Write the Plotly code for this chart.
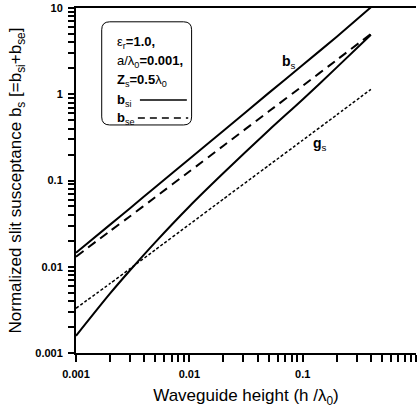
import plotly.graph_objects as go

# Data (log-log)
h = [0.001, 0.002, 0.003, 0.005, 0.01, 0.02, 0.05, 0.1, 0.2, 0.4]
b_s = [0.0145, 0.0308, 0.0478, 0.0835, 0.178, 0.378, 1.03, 2.18, 4.65, 10.2]
b_se = [0.0131, 0.0260, 0.0385, 0.0640, 0.127, 0.253, 0.63, 1.25, 2.50, 5.0]
b_si = [0.00158, 0.0049, 0.0091, 0.0192, 0.050, 0.122, 0.38, 0.87, 2.05, 4.9]
g_s = [0.0033, 0.0064, 0.0095, 0.0157, 0.0309, 0.061, 0.149, 0.293, 0.577, 1.14]

x_major = [0.001, 0.01, 0.1, 1]
x_major_text = ["0.001", "0.01", "0.1", "1"]
y_major = [0.001, 0.01, 0.1, 1, 10]
y_major_text = ["0.001", "0.01", "0.1", "1", "10"]
minor_digits = [2, 3, 4, 5, 6, 7, 8, 9]

FONT = "Liberation Sans, Arial, sans-serif"


def log_ticks(major, major_text, last):
    vals, texts = [], []
    for v, t in zip(major, major_text):
        vals.append(v)
        texts.append("<b>%s</b>" % t)
        if v < last:
            for d in minor_digits:
                vals.append(v * d)
                texts.append("")
    return vals, texts


xv, xt = log_ticks(x_major, x_major_text, 1)
yv, yt = log_ticks(y_major, y_major_text, 10)

fig = go.Figure()
fig.add_trace(go.Scatter(x=h, y=b_s, mode="lines", line=dict(color="black", width=2, shape="spline", smoothing=0.5)))
fig.add_trace(go.Scatter(x=h, y=b_se, mode="lines", line=dict(color="black", width=2, dash="9px,6px", shape="spline", smoothing=0.5)))
fig.add_trace(go.Scatter(x=h, y=b_si, mode="lines", line=dict(color="black", width=2, shape="spline", smoothing=0.8)))
fig.add_trace(go.Scatter(x=h, y=g_s, mode="lines", line=dict(color="black", width=1.5, dash="3px,2px", shape="spline", smoothing=0.5)))

fig.update_xaxes(
    type="log", range=[-3, 0],
    tickvals=xv, ticktext=xt,
    tickfont=dict(family=FONT, size=11, color="black"),
    ticks="outside", ticklen=7, tickwidth=1.5, tickcolor="black",
    ticklabelstandoff=3,
    showline=True, linecolor="black", linewidth=2, mirror=True,
    showgrid=False, zeroline=False,
    title=dict(text="Waveguide height (h /λ<sub>0</sub>)", font=dict(family=FONT, size=17, color="black"), standoff=10),
)
fig.update_yaxes(
    type="log", range=[-3, 1],
    tickvals=yv, ticktext=yt,
    tickfont=dict(family=FONT, size=11, color="black"),
    ticks="outside", ticklen=6, tickwidth=1.5, tickcolor="black",
    ticklabelstandoff=3,
    showline=True, linecolor="black", linewidth=2, mirror=False,
    showgrid=False, zeroline=False,
    title=dict(text="Normalized slit susceptance b<sub>s</sub> [=b<sub>si</sub>+b<sub>se</sub>]",
               font=dict(family=FONT, size=17, color="black"), standoff=9),
)

# Legend box (rounded rectangle) in paper coordinates
x0, x1, y0, y1 = 0.0756, 0.340, 0.661, 0.960
rx, ry = 0.0235, 0.0232
path = (f"M {x0+rx},{y1} L {x1-rx},{y1} Q {x1},{y1} {x1},{y1-ry} "
        f"L {x1},{y0+ry} Q {x1},{y0} {x1-rx},{y0} L {x0+rx},{y0} "
        f"Q {x0},{y0} {x0},{y0+ry} L {x0},{y1-ry} Q {x0},{y1} {x0+rx},{y1} Z")
fig.add_shape(type="path", path=path, xref="paper", yref="paper",
              line=dict(color="black", width=1), fillcolor="rgba(0,0,0,0)")
fig.add_shape(type="line", xref="paper", yref="paper", x0=0.188, x1=0.326, y0=0.733, y1=0.733,
              line=dict(color="black", width=1.5))
fig.add_shape(type="line", xref="paper", yref="paper", x0=0.182, x1=0.33, y0=0.681, y1=0.681,
              line=dict(color="black", width=1.5, dash="7px,5px"))

legend_lines = [
    ("ε<sub>r</sub><b>=1.0,</b>", 0.8986),
    ("a/λ<sub>0</sub><b>=0.001,</b>", 0.8435),
    ("<b>Z</b><sub>s</sub><b>=0.5</b>λ<sub>0</sub>", 0.791),
    ("<b>b</b><sub>si</sub>", 0.733),
    ("<b>b</b><sub>se</sub>", 0.681),
]
for txt, yy in legend_lines:
    fig.add_annotation(text=txt, x=0.1147, y=yy, xref="paper", yref="paper",
                       xanchor="left", yanchor="middle", showarrow=False,
                       font=dict(family=FONT, size=13, color="black"))

fig.add_annotation(text="<b>b</b><sub>s</sub>", x=0.625, y=0.875, xref="paper", yref="paper",
                   showarrow=False, font=dict(family=FONT, size=14, color="black"))
fig.add_annotation(text="<b>g</b><sub>s</sub>", x=0.745, y=0.605, xref="paper", yref="paper",
                   showarrow=False, font=dict(family=FONT, size=14, color="black"))

fig.update_layout(
    width=417, height=418,
    margin=dict(l=76, r=1, t=8, b=65),
    plot_bgcolor="white", paper_bgcolor="white",
    showlegend=False,
)

fig.write_html("out.html")
